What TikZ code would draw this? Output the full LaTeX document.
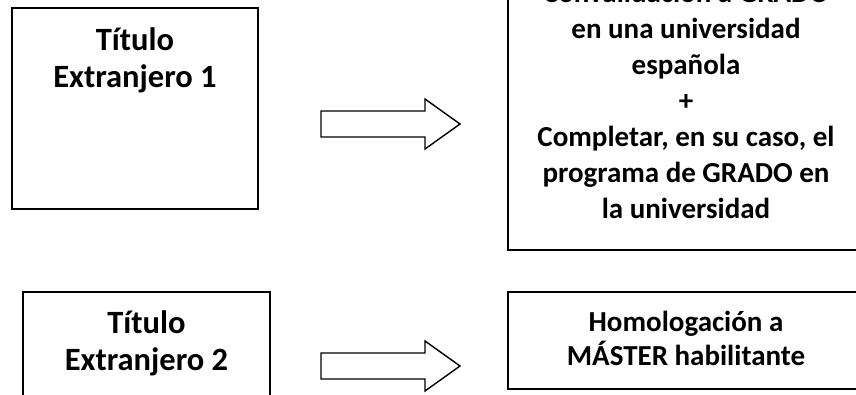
\documentclass[tikz,border=0pt]{standalone}
\usepackage{fontspec}
\setmainfont{Carlito}
\begin{document}
\begin{tikzpicture}[x=1pt,y=-1pt,
  box/.style={draw=black, line width=1.6pt, fill=white, inner sep=0pt},
  lbl/.style={font=\bfseries\fontsize{29}{36}\selectfont, align=center, inner sep=0pt},
  biglbl/.style={font=\bfseries\fontsize{32.5}{37}\selectfont, align=center, inner sep=0pt},
  smalllbl/.style={font=\bfseries\fontsize{29}{34}\selectfont, align=center, inner sep=0pt},
  blockarrow/.style={draw=black, line width=1.4pt, fill=white, line join=miter}]
\useasboundingbox (0,0) rectangle (856,394);
\clip (0,0) rectangle (856,394);
% boxes
\node[box, minimum width=246pt, minimum height=201pt] (b1) at (135,108.5) {};
\node[box, minimum width=356pt, minimum height=300pt] (b2) at (686,100) {};
\node[box, minimum width=247pt, minimum height=150pt] (b3) at (146.5,367) {};
\node[box, minimum width=356pt, minimum height=97pt] (b4) at (686,340.5) {};
% texts (anchor base = baseline of the last line)
\node[biglbl, anchor=base] (t1) at (135,87) {Título\\Extranjero 1};
\node[lbl, anchor=base] (t2) at (686,218) {Convalidación a GRADO\\en una universidad\\española\\+\\Completar, en su caso, el\\programa de GRADO en\\la universidad};
\node[biglbl, anchor=base] (t3) at (146.5,370) {Título\\Extranjero 2};
\node[smalllbl, anchor=base] (t4) at (686,365) {Homologación a\\MÁSTER habilitante};
% block arrows
\coordinate (a1) at (321,98);
\coordinate (a2) at (321,340);
\draw[blockarrow] ([yshift=-13pt]a1) -- ++(104,0) -- ++(0,-12) -- ++(35,25) -- ++(-35,25) -- ++(0,-12) -- ++(-104,0) -- cycle;
\draw[blockarrow] ([yshift=-13pt]a2) -- ++(104,0) -- ++(0,-12) -- ++(35,25) -- ++(-35,25) -- ++(0,-12) -- ++(-104,0) -- cycle;
\end{tikzpicture}
\end{document}
